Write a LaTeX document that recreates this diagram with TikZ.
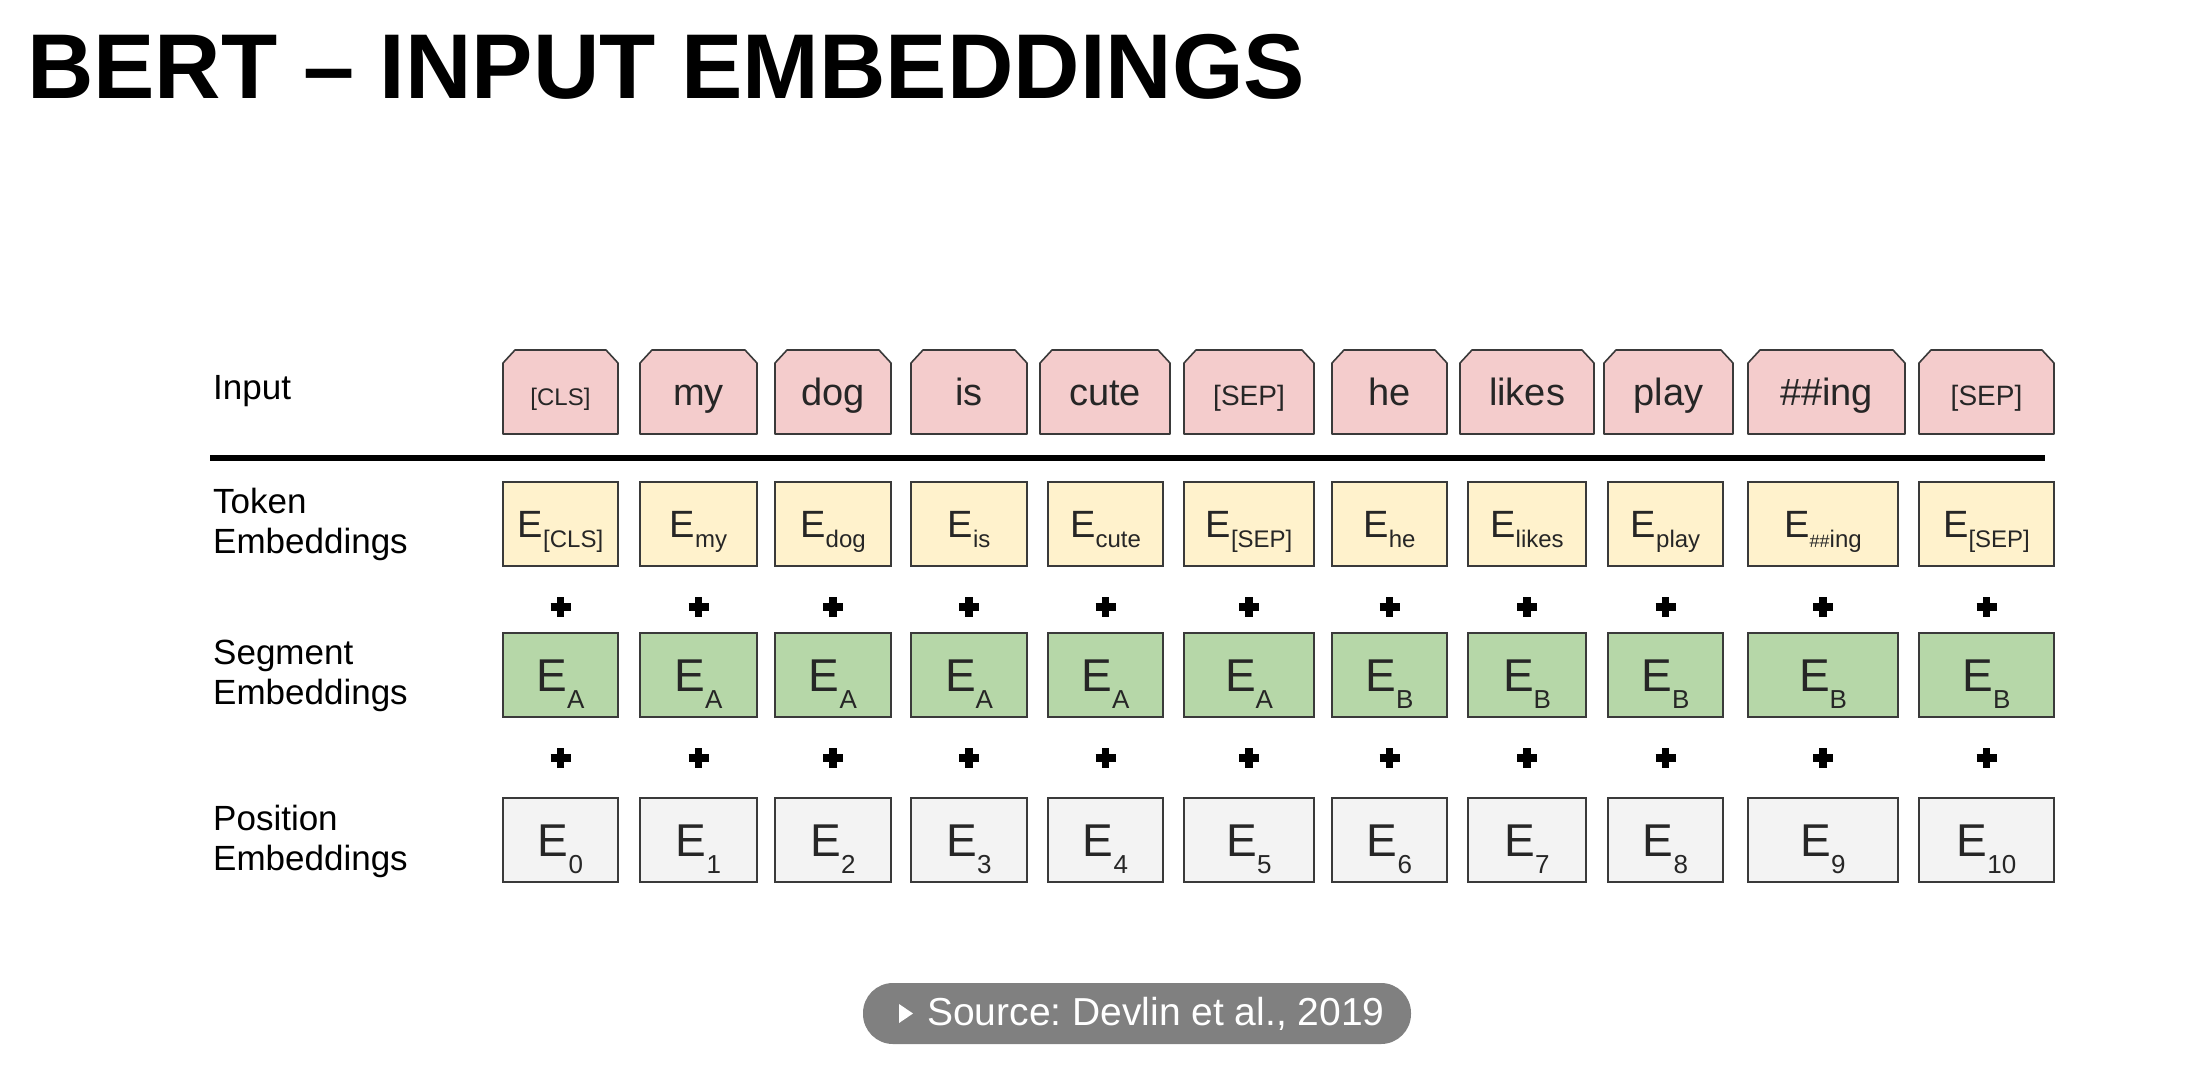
\documentclass[tikz,border=0pt]{standalone}
\usepackage{fontspec}
\setmainfont{Liberation Sans}
\frenchspacing
\definecolor{inpink}{HTML}{F4CCCC}
\definecolor{tokyellow}{HTML}{FFF2CC}
\definecolor{seggreen}{HTML}{B6D7A8}
\definecolor{posgray}{HTML}{F3F3F3}
\definecolor{edge}{HTML}{3A3A3A}
\definecolor{pillgray}{HTML}{808080}
\newcommand{\fs}[1]{\fontsize{#1}{#1}\selectfont}
% E with a lowered subscript: E size, sub size, drop, sub text
\newcommand{\Emb}[4]{{\fs{#1}E\raisebox{-#3pt}{\fs{#2}#4}}}
\begin{document}
\begin{tikzpicture}[x=1pt,y=-1pt,
  cell/.style={draw=edge, line width=1.6pt, inner sep=0pt, minimum height=84pt},
  celltext/.style={anchor=base, inner sep=0pt, text=black!85},
  lbl/.style={anchor=west, align=left, inner sep=0pt, font=\fontsize{35}{40}\selectfont},
  plus/.style={line width=7.5pt, black},
  pill/.style={fill=pillgray, rounded corners=30pt, inner sep=0pt}]

\useasboundingbox[fill=white] (0,0) rectangle (2197,1073);

% title
\node[anchor=base west, inner sep=0pt, font=\bfseries\fs{92}] (title) at (27,98) {BERT – INPUT EMBEDDINGS};

% row labels
\node[anchor=base west, inner sep=0pt, font=\fs{35}] (lin) at (213,399) {Input};
\node[lbl] (ltok) at (213,524) {Token\\Embeddings};
\node[lbl] (lseg) at (213,676) {Segment\\Embeddings};
\node[lbl] (lpos) at (213,841) {Position\\Embeddings};

% separator rule
\draw[line width=6pt] (210,458) -- (2045,458);

% input tokens (boxes with cut top corners)
\foreach \i/\l/\r/\w in {
  1/503/618/{\fs{24}[CLS]},
  2/640/757/{\fs{38}my},
  3/775/891/{\fs{38}dog},
  4/911/1027/{\fs{38}is},
  5/1040/1170/{\fs{38}cute},
  6/1184/1314/{\fs{28}[SEP]},
  7/1332/1447/{\fs{38}he},
  8/1460/1594/{\fs{38}likes},
  9/1604/1733/{\fs{38}play},
  10/1748/1905/{\fs{38}\#\#ing},
  11/1919/2054/{\fs{28}[SEP]}}{
  \pgfmathsetmacro{\cx}{(\l+\r)/2}
  \filldraw[fill=inpink, draw=edge, line width=1.6pt, line join=round]
    (\l,434) -- (\l,363) -- (\l+12,350) -- (\r-12,350) -- (\r,363) -- (\r,434) -- cycle;
  \node[celltext] (in\i) at (\cx,405) {\w};
}

% token embeddings
\foreach \i/\l/\r/\s in {
  1/503/618/{[CLS]}, 2/640/757/my, 3/775/891/dog, 4/911/1027/is,
  5/1048/1163/cute, 6/1184/1314/{[SEP]}, 7/1332/1447/he,
  8/1468/1586/likes, 9/1608/1723/play, 10/1748/1898/{{\fs{18}\#\#}ing},
  11/1919/2054/{[SEP]}}{
  \pgfmathsetmacro{\cx}{(\l+\r)/2}
  \pgfmathsetmacro{\cw}{\r-\l}
  \node[cell, fill=tokyellow, minimum width=\cw pt] (tok\i) at (\cx,524) {};
  \node[celltext] (tokt\i) at (\cx,537) {\Emb{38}{24}{10}{\s}};
}

% segment embeddings
\foreach \i/\l/\r/\s in {
  1/503/618/A, 2/640/757/A, 3/775/891/A, 4/911/1027/A,
  5/1048/1163/A, 6/1184/1314/A, 7/1332/1447/B,
  8/1468/1586/B, 9/1608/1723/B, 10/1748/1898/B, 11/1919/2054/B}{
  \pgfmathsetmacro{\cx}{(\l+\r)/2}
  \pgfmathsetmacro{\cw}{\r-\l}
  \node[cell, fill=seggreen, minimum width=\cw pt] (seg\i) at (\cx,675) {};
  \node[celltext] (segt\i) at (\cx,691) {\Emb{46}{26}{17}{\s}};
  \draw[plus] (\cx-10,607) -- (\cx+10,607) (\cx,597) -- (\cx,617);
}

% position embeddings
\foreach \i/\l/\r/\s in {
  1/503/618/0, 2/640/757/1, 3/775/891/2, 4/911/1027/3,
  5/1048/1163/4, 6/1184/1314/5, 7/1332/1447/6,
  8/1468/1586/7, 9/1608/1723/8, 10/1748/1898/9, 11/1919/2054/10}{
  \pgfmathsetmacro{\cx}{(\l+\r)/2}
  \pgfmathsetmacro{\cw}{\r-\l}
  \node[cell, fill=posgray, minimum width=\cw pt] (pos\i) at (\cx,840) {};
  \node[celltext] (post\i) at (\cx,856) {\Emb{46}{26}{17}{\s}};
  \draw[plus] (\cx-10,758) -- (\cx+10,758) (\cx,748) -- (\cx,768);
}

% source note
\node[pill, minimum width=548pt, minimum height=61pt] (src) at (1137,1013.5) {};
\fill[white] (899,1004) -- (913,1013.5) -- (899,1023) -- cycle;
\node[anchor=west, inner sep=0pt, text=white, font=\fs{39}] (srct) at (927,1013.5) {Source: Devlin et al., 2019};

\end{tikzpicture}
\end{document}
